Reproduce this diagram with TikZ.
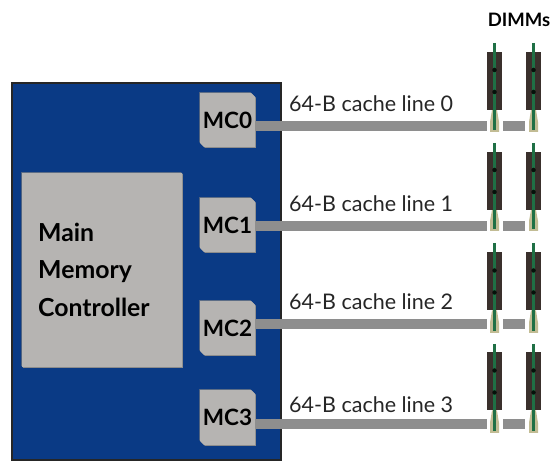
\documentclass[tikz,border=0pt]{standalone}
\usepackage{fontspec}
\setmainfont{Lato}
\usetikzlibrary{shapes.misc,shadows}
\definecolor{cpublue}{HTML}{0A3A85}
\definecolor{boxgray}{HTML}{B6B4B2}
\definecolor{busgray}{HTML}{8E8E8E}
\definecolor{dimmdark}{HTML}{3A302C}
\definecolor{dimmgreen}{HTML}{1F7045}
\definecolor{sockettan}{HTML}{C2BC94}
\tikzset{
  x=1pt,y=-1pt,
  chip/.style={chamfered rectangle,chamfered rectangle corners={north east,south west},
    chamfered rectangle xsep=2pt,chamfered rectangle ysep=2pt,
    general shadow={fill=black!45!cpublue!70!white,shadow xshift=-.8pt,shadow yshift=.8pt},
    general shadow={fill=black!45,shadow xshift=.8pt,shadow yshift=-.8pt},
    fill=boxgray,draw=none,inner sep=0pt,outer sep=0pt,text=black},
  mctl/.style={chip,minimum width=55pt,minimum height=54pt,
    font=\fontsize{22.5}{22.5}\selectfont\bfseries},
  busbar/.style={draw=busgray,line width=10pt},
  dimmbody/.style={fill=dimmdark,draw=none,minimum width=15pt,minimum height=58pt,inner sep=0pt,outer sep=0pt},
  cardline/.style={draw=dimmgreen,line width=3pt},
  hole/.style={fill=black!85!dimmgreen,draw=none,circle,minimum size=4.5pt,inner sep=0pt},
  buslabel/.style={anchor=base west,inner sep=0pt,text=black!85,font=\fontsize{21.5}{21.5}\selectfont},
  mmtext/.style={anchor=base west,inner sep=0pt,font=\fontsize{24.8}{24.8}\selectfont\bfseries},
}
\newcommand{\dimmrow}[4]{% id, body centre y, card top y, card bottom y
  \foreach \col/\cx in {a/494.5,b/533.5}{
    \fill[sockettan] (\cx-2.5,#2+29) -- (\cx+2.5,#2+29) -- (\cx+4.5,#4-10) -- (\cx+4.5,#4) -- (\cx-4.5,#4) -- (\cx-4.5,#4-10) -- cycle;
    \node[dimmbody] (d#1\col) at (\cx,#2) {};
    \draw[cardline] (\cx,#3) -- (\cx,#4-2);
    \node[hole] (u#1\col) at (\cx,#2-11) {};
    \node[hole] (v#1\col) at (\cx,#2+11) {};
  }
}
\begin{document}
\begin{tikzpicture}
\useasboundingbox (0,0) rectangle (552,462);
\node[fill=cpublue,draw=black!85,line width=1.6pt,minimum width=269pt,minimum height=377pt,inner sep=0pt] (cpu) at (146.5,271.5) {};
\node[chip,minimum width=160pt,minimum height=194pt] (mmc) at (102,270) {};
\node[mmtext] (t1) at (38,242) {Main};
\node[mmtext] (t2) at (38,279) {Memory};
\node[mmtext] (t3) at (38,317) {Controller};
\node[mctl] (mc0) at (227.5,120) {MC0};
\node[mctl] (mc1) at (227.5,225) {MC1};
\node[mctl] (mc2) at (227.5,328) {MC2};
\node[mctl,minimum height=55pt] (mc3) at (227.5,417.5) {MC3};
\dimmrow{0}{81}{43}{132}
\dimmrow{1}{181}{143}{231}
\dimmrow{2}{281.5}{243}{333}
\dimmrow{3}{381.5}{344}{433}
\coordinate (p0) at (487,126.5); \coordinate (q0) at (503,126.5); \coordinate (r0) at (525,126.5);
\coordinate (p1) at (487,226); \coordinate (q1) at (503,226); \coordinate (r1) at (525,226);
\coordinate (p2) at (487,324); \coordinate (q2) at (503,324); \coordinate (r2) at (525,324);
\coordinate (p3) at (487,424.5); \coordinate (q3) at (503,424.5); \coordinate (r3) at (525,424.5);
\coordinate (m0) at (mc0.east|-p0); \coordinate (m1) at (mc1.east|-p1);
\coordinate (m2) at (mc2.east|-p2); \coordinate (m3) at (mc3.east|-p3);
\foreach \i in {0,1,2,3}{
  \draw[busbar] (m\i) -- (p\i);
  \draw[busbar] (q\i) -- (r\i);
}
\node[buslabel] (l0) at (289,112) {64-B cache line 0};
\node[buslabel] (l1) at (289,212) {64-B cache line 1};
\node[buslabel] (l2) at (289,310) {64-B cache line 2};
\node[buslabel] (l3) at (289,413) {64-B cache line 3};
\node[anchor=base,inner sep=0pt,font=\fontsize{18.5}{18.5}\selectfont\bfseries] (dimms) at (519,27) {DIMMs};
\end{tikzpicture}
\end{document}
